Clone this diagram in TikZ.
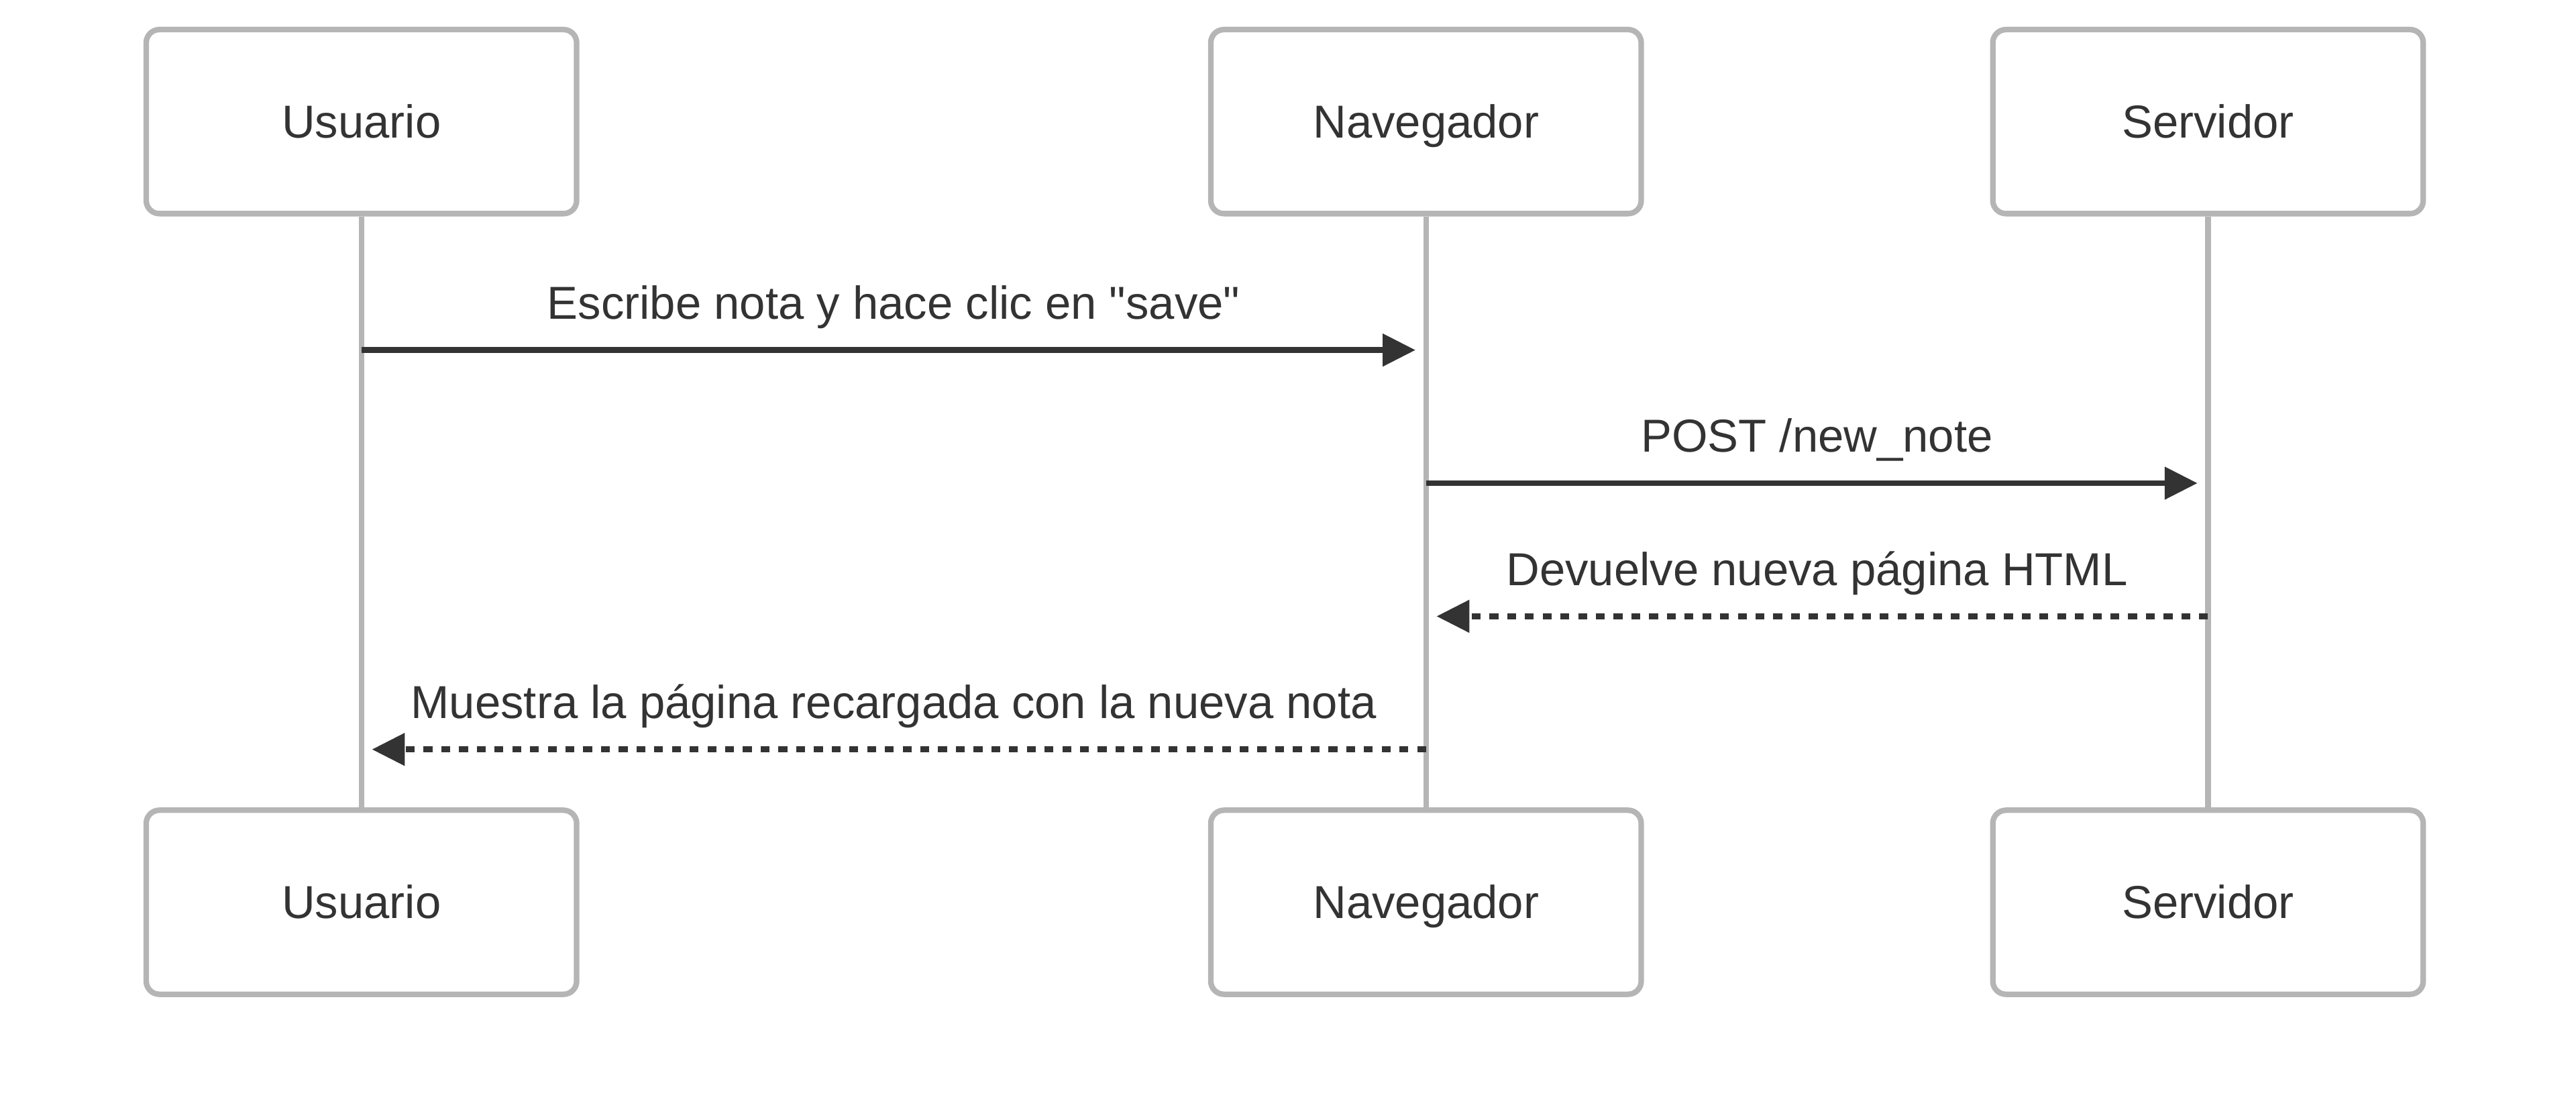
\documentclass[tikz,border=0pt]{standalone}
\usepackage{fontspec}
\setmainfont{Liberation Sans}
\usepackage{tikz}
\usetikzlibrary{positioning, arrows.meta}
\definecolor{gris}{HTML}{B5B5B5}
\definecolor{tinta}{HTML}{333333}
\tikzstyle{actor} =[draw=gris, line width=2.4pt, fill=white, rounded corners=0.2cm, minimum width=6.55cm, minimum height=2.8cm, text=tinta, font=\fontsize{20}{24}\selectfont, text height=0.5cm, text depth=0cm]
\tikzstyle{vida} =[draw=gris, line width=2.4pt]
\tikzstyle{mensaje} =[draw=tinta, line width=2.5pt, -{Triangle[length=0.5cm, width=0.48cm]}, shorten >=0.16cm]
\tikzstyle{respuesta} =[mensaje, dash pattern=on 0.135cm off 0.135cm]
\tikzstyle{etiqueta} =[text=tinta, font=\fontsize{20}{24}\selectfont, anchor=base, yshift=0.47cm, inner sep=0pt]

\begin{document}
\begin{tikzpicture}
	\path[fill=white, use as bounding box] (0,0) rectangle (39.2,-17);
	% participantes
	\node[actor] (usuario) at (5.5,-1.85) {Usuario};
	\node[actor] (navegador) at (21.7,-1.85) {Navegador};
	\node[actor] (servidor) at (33.6,-1.85) {Servidor};
	\node[actor] (usuarioB) at (5.5,-13.725) {Usuario};
	\node[actor] (navegadorB) at (21.7,-13.725) {Navegador};
	\node[actor] (servidorB) at (33.6,-13.725) {Servidor};
	% lineas de vida
	\draw[vida] (usuario) -- (usuarioB);
	\draw[vida] (navegador) -- (navegadorB);
	\draw[vida] (servidor) -- (servidorB);
	% mensajes
	\coordinate (u1) at (usuario |- 0,-5.325);
	\coordinate (n1) at (navegador |- 0,-5.325);
	\coordinate (n2) at (navegador |- 0,-7.35);
	\coordinate (s2) at (servidor |- 0,-7.35);
	\coordinate (s3) at (servidor |- 0,-9.375);
	\coordinate (n3) at (navegador |- 0,-9.375);
	\coordinate (n4) at (navegador |- 0,-11.4);
	\coordinate (u4) at (usuario |- 0,-11.4);
	\draw[mensaje] (u1) -- node[etiqueta] {Escribe nota y hace clic en \textquotedbl save\textquotedbl} (n1);
	\draw[mensaje] (n2) -- node[etiqueta] {POST /new\_note} (s2);
	\draw[respuesta] (s3) -- node[etiqueta] {Devuelve nueva página HTML} (n3);
	\draw[respuesta] (n4) -- node[etiqueta] {Muestra la página recargada con la nueva nota} (u4);
\end{tikzpicture}
\end{document}
